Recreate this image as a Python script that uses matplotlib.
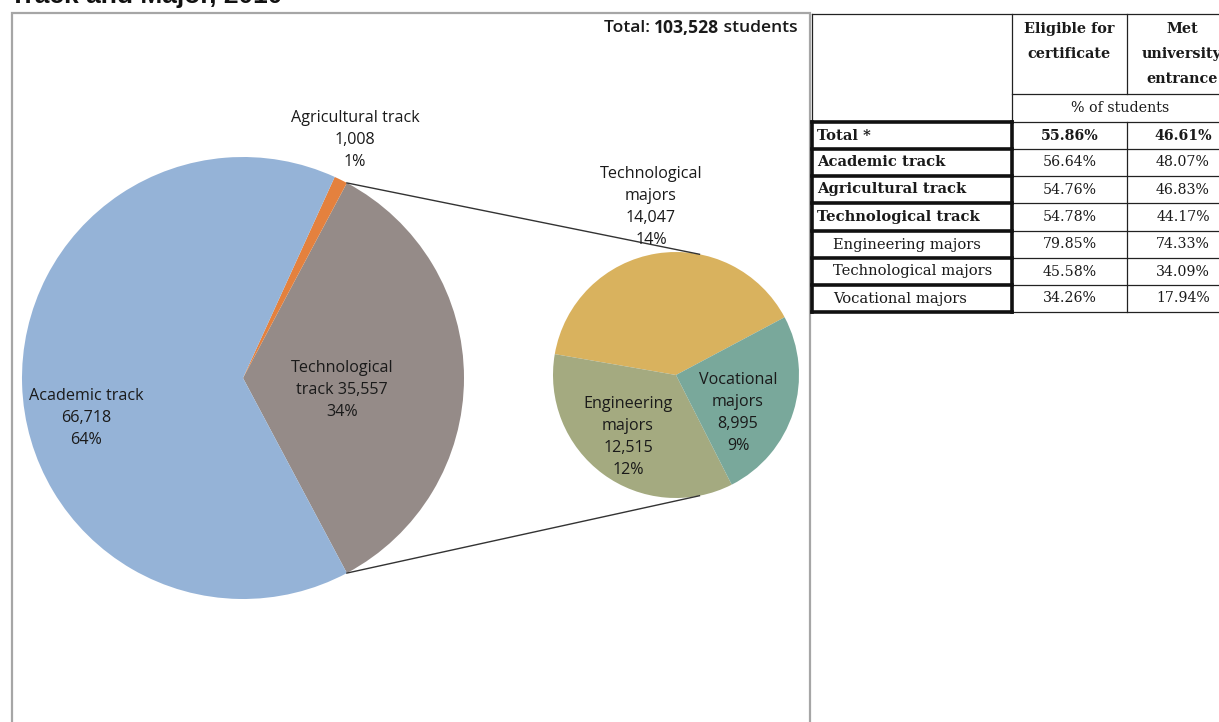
import matplotlib
matplotlib.use("Agg")
import matplotlib.pyplot as plt
from matplotlib.patches import Rectangle
import numpy as np

# ── Data ──────────────────────────────────────────────────────────────────────
track_names = ["Technological track", "Agricultural track", "Academic track"]
track_counts = [35557, 1008, 66718]
track_pcts = ["34%", "1%", "64%"]
track_colors = ["#958b88", "#e4813e", "#95b3d7"]

major_names = ["Technological majors", "Engineering majors", "Vocational majors"]
major_counts = [14047, 12515, 8995]
major_pcts = ["14%", "12%", "9%"]
major_colors = ["#d9b25e", "#a4aa80", "#79a89b"]

total_students = "103,528"

table_rows = ["Total *", "Academic track", "Agricultural track", "Technological track",
              "Engineering majors", "Technological majors", "Vocational majors"]
table_indent = [False, False, False, False, True, True, True]
eligible = ["55.86%", "56.64%", "54.76%", "54.78%", "79.85%", "45.58%", "34.26%"]
met_entrance = ["46.61%", "48.07%", "46.83%", "44.17%", "74.33%", "34.09%", "17.94%"]

W, H = 1219, 722
LABEL_FONT = "Open Sans"
TABLE_FONT = "DejaVu Serif"
TXT = "#1a1a1a"


def py(y):
    """Screen-style y (from top) to axes y (from bottom)."""
    return H - y


fig = plt.figure(figsize=(W / 100, H / 100), dpi=100)
fig.patch.set_facecolor("white")
ax = fig.add_axes([0, 0, 1, 1])

# ── Chart frame and title ─────────────────────────────────────────────────────
ax.add_patch(Rectangle((12, -10), 798, py(13) + 10, fill=False,
                       edgecolor="#a6a6a6", linewidth=1.6, zorder=1))
ax.text(10, py(3), "Track and Major, 2010", fontsize=19, fontweight="bold",
        family="Liberation Sans", color="#111111", ha="left", va="baseline")

# ── Main pie ──────────────────────────────────────────────────────────────────
main_c = (243, py(378))
main_r = 221
tech_frac = track_counts[0] / sum(track_counts)
start = -180 * tech_frac
ax.pie(track_counts, colors=track_colors, startangle=start, counterclock=True,
       center=main_c, radius=main_r, frame=True,
       wedgeprops=dict(linewidth=0, antialiased=True))

# ── Secondary pie (technological track breakdown) ────────────────────────────
sub_c = (676, py(375))
sub_r = 123
ax.pie(major_counts, colors=major_colors, startangle=28, counterclock=True,
       center=sub_c, radius=sub_r, frame=True,
       wedgeprops=dict(linewidth=0, antialiased=True))

# connector lines from the technological wedge edges to the secondary pie
for a_main, a_sub in [(start + 360 * tech_frac, 79), (start, -79)]:
    p0 = (main_c[0] + main_r * np.cos(np.radians(a_main)),
          main_c[1] + main_r * np.sin(np.radians(a_main)))
    p1 = (sub_c[0] + sub_r * np.cos(np.radians(a_sub)),
          sub_c[1] + sub_r * np.sin(np.radians(a_sub)))
    ax.plot([p0[0], p1[0]], [p0[1], p1[1]], color="#333333", linewidth=1.0,
            zorder=5)

# ── Pie labels ────────────────────────────────────────────────────────────────
lab_kw = dict(family=LABEL_FONT, fontsize=11.6, color=TXT, ha="center",
              va="center", linespacing=1.5, zorder=6)
ax.text(86, py(418), f"Academic track\n{track_counts[2]:,}\n{track_pcts[2]}", **lab_kw)
ax.text(342, py(390), f"Technological\ntrack {track_counts[0]:,}\n{track_pcts[0]}", **lab_kw)
ax.text(355, py(140), f"Agricultural track\n{track_counts[1]:,}\n{track_pcts[1]}", **lab_kw)
ax.text(651, py(207), f"Technological\nmajors\n{major_counts[0]:,}\n{major_pcts[0]}", **lab_kw)
ax.text(628, py(437), f"Engineering\nmajors\n{major_counts[1]:,}\n{major_pcts[1]}", **lab_kw)
ax.text(738, py(413), f"Vocational\nmajors\n{major_counts[2]:,}\n{major_pcts[2]}", **lab_kw)

# ── "Total: N students" built right-to-left ───────────────────────────────────
fig.canvas.draw()
renderer = fig.canvas.get_renderer()
x_right = 798
for part, weight in [(" students", 600), (total_students, "bold"), ("Total: ", 600)]:
    t = ax.text(x_right, py(28), part, family=LABEL_FONT, fontsize=12.6,
                fontweight=weight, color=TXT, ha="right", va="center")
    bb = t.get_window_extent(renderer)
    x_right -= bb.width

# ── Table ─────────────────────────────────────────────────────────────────────
col_x = [812, 1012, 1127, 1240]
row_y = [122, 149, 176, 203, 231, 258, 285, 312]
thin = dict(color="#222222", linewidth=0.9, zorder=3)
thick = dict(color="#111111", linewidth=2.6, zorder=4)

def hline(x0, x1, y, kw):
    ax.plot([x0, x1], [py(y), py(y)], solid_capstyle="projecting", **kw)

def vline(x, y0, y1, kw):
    ax.plot([x, x], [py(y0), py(y1)], solid_capstyle="projecting", **kw)

# header block
hline(col_x[0], col_x[3], 14, thin)
hline(col_x[1], col_x[3], 94, thin)
vline(col_x[0], 14, row_y[0], thin)
vline(col_x[1], 14, row_y[0], thin)
vline(col_x[2], 14, 94, thin)
# data block, thin lines on value columns
for y in row_y:
    hline(col_x[1], col_x[3], y, thin)
vline(col_x[2], row_y[0], row_y[-1], thin)
# thick boxes around the row-label cells
for y in row_y:
    hline(col_x[0], col_x[1], y, thick)
vline(col_x[0], row_y[0], row_y[-1], thick)
vline(col_x[1], row_y[0], row_y[-1], thick)

hdr_kw = dict(family=TABLE_FONT, fontsize=10.4, fontweight="bold", color=TXT,
              ha="center", va="top", linespacing=2.0)
ax.text((col_x[1] + col_x[2]) / 2, py(22), "Eligible for\ncertificate", **hdr_kw)
ax.text(1182, py(22), "Met\nuniversity\nentrance", **hdr_kw)
ax.text(1120, py(108), "% of students", family=TABLE_FONT, fontsize=10.3,
        color=TXT, ha="center", va="center")

for i, name in enumerate(table_rows):
    yc = py((row_y[i] + row_y[i + 1]) / 2)
    bold = not table_indent[i]
    ax.text(833 if table_indent[i] else 817, yc, name, family=TABLE_FONT,
            fontsize=10.6, fontweight="bold" if bold else "normal", color=TXT,
            ha="left", va="center")
    vw = "bold" if i == 0 else "normal"
    ax.text((col_x[1] + col_x[2]) / 2, yc, eligible[i], family=TABLE_FONT,
            fontsize=10.2, fontweight=vw, color=TXT, ha="center", va="center")
    ax.text(1183, yc, met_entrance[i], family=TABLE_FONT,
            fontsize=10.2, fontweight=vw, color=TXT, ha="center", va="center")

ax.set_xlim(0, W)
ax.set_ylim(0, H)
ax.set_aspect("equal")
ax.axis("off")

fig.savefig("out.png", dpi=100, facecolor="white")
